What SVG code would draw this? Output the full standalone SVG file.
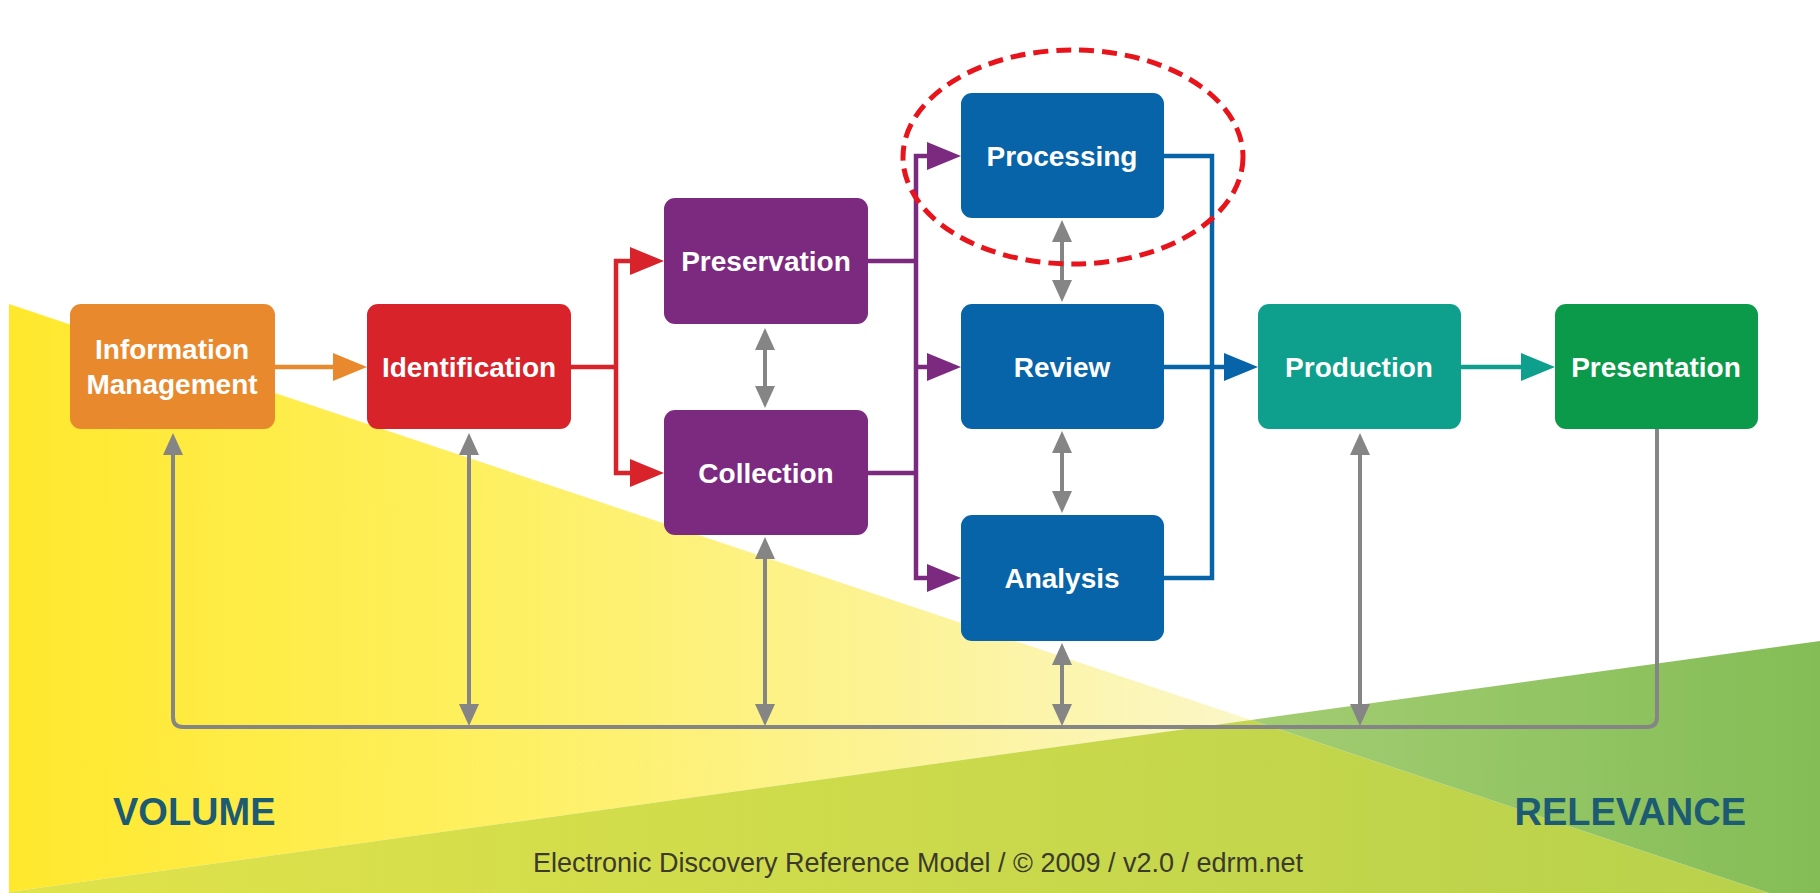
<svg xmlns="http://www.w3.org/2000/svg" width="1820" height="893" viewBox="0 0 1820 893">
<style>
.lbl{font-family:"Liberation Sans",Arial,sans-serif;font-weight:bold;font-size:28px;fill:#ffffff;text-anchor:middle}
.big{font-family:"Liberation Sans",Arial,sans-serif;font-weight:bold;font-size:38px;fill:#1c5b72}
.foot{font-family:"Liberation Sans",Arial,sans-serif;font-size:27px;fill:#3b3a2c;text-anchor:middle}
.ln{fill:none;stroke-width:4.5}
.gray{fill:none;stroke:#858585;stroke-width:4}
</style>
<defs>
<linearGradient id="gy" gradientUnits="userSpaceOnUse" x1="9" y1="0" x2="1250" y2="0">
<stop offset="0" stop-color="#ffe82c"/><stop offset="0.4" stop-color="#fef062"/><stop offset="0.75" stop-color="#fcf39c"/><stop offset="1" stop-color="#fbf7c8"/>
</linearGradient>
<linearGradient id="go" gradientUnits="userSpaceOnUse" x1="9" y1="0" x2="1769" y2="0">
<stop offset="0" stop-color="#e0e34a"/><stop offset="1" stop-color="#b8d14c"/>
</linearGradient>
<linearGradient id="gg" gradientUnits="userSpaceOnUse" x1="1251" y1="0" x2="1820" y2="0">
<stop offset="0" stop-color="#a3cd72"/><stop offset="1" stop-color="#84bd56"/>
</linearGradient>
<marker id="aO" markerUnits="userSpaceOnUse" markerWidth="34" markerHeight="28" refX="24" refY="14" orient="auto"><path d="M0,0 L34,14 L0,28 z" fill="#e8892e"/></marker>
<marker id="aR" markerUnits="userSpaceOnUse" markerWidth="34" markerHeight="28" refX="24" refY="14" orient="auto-start-reverse"><path d="M0,0 L34,14 L0,28 z" fill="#d8232b"/></marker>
<marker id="aP" markerUnits="userSpaceOnUse" markerWidth="34" markerHeight="28" refX="24" refY="14" orient="auto-start-reverse"><path d="M0,0 L34,14 L0,28 z" fill="#7c2a7f"/></marker>
<marker id="aB" markerUnits="userSpaceOnUse" markerWidth="34" markerHeight="28" refX="24" refY="14" orient="auto"><path d="M0,0 L34,14 L0,28 z" fill="#0864a9"/></marker>
<marker id="aT" markerUnits="userSpaceOnUse" markerWidth="34" markerHeight="28" refX="24" refY="14" orient="auto"><path d="M0,0 L34,14 L0,28 z" fill="#0f9f8d"/></marker>
<marker id="aG" markerUnits="userSpaceOnUse" markerWidth="22" markerHeight="20" refX="14" refY="10" orient="auto-start-reverse"><path d="M0,0 L22,10 L0,20 z" fill="#858585"/></marker>
</defs>
<rect width="1820" height="893" fill="#ffffff"/>
<g id="background">
<polygon points="9,304 1251,720 9,892" fill="url(#gy)"/>
<polygon points="9,892 1251,720 1769,893 9,893" fill="url(#go)"/>
<polygon points="1251,720 1820,641 1820,893 1769,893" fill="url(#gg)"/>
</g>
<g id="connectors">
<path class="ln" stroke="#e8892e" d="M275,367 H357" marker-end="url(#aO)"/>
<path class="ln" stroke="#d8232b" d="M571,367 H616"/>
<path class="ln" stroke="#d8232b" d="M654,261 H616 V473 H654" marker-start="url(#aR)" marker-end="url(#aR)"/>
<path class="ln" stroke="#7c2a7f" d="M868,261 H916 M868,473 H916"/>
<path class="ln" stroke="#7c2a7f" d="M951,156 H916 V578 H951" marker-start="url(#aP)" marker-end="url(#aP)"/>
<path class="ln" stroke="#7c2a7f" d="M916,367 H951" marker-end="url(#aP)"/>
<path class="ln" stroke="#0864a9" d="M1164,156 H1212 V578 H1164"/>
<path class="ln" stroke="#0864a9" d="M1164,367 H1248" marker-end="url(#aB)"/>
<path class="ln" stroke="#0f9f8d" d="M1461,367 H1545" marker-end="url(#aT)"/>
<path class="gray" d="M173,441 V717 Q173,727 183,727 H1647 Q1657,727 1657,717 V429" marker-start="url(#aG)"/>
<path class="gray" d="M469,441 V718" marker-start="url(#aG)" marker-end="url(#aG)"/>
<path class="gray" d="M765,545 V718" marker-start="url(#aG)" marker-end="url(#aG)"/>
<path class="gray" d="M1062,651 V718" marker-start="url(#aG)" marker-end="url(#aG)"/>
<path class="gray" d="M1360,441 V718" marker-start="url(#aG)" marker-end="url(#aG)"/>
<path class="gray" d="M765,336 V400" marker-start="url(#aG)" marker-end="url(#aG)"/>
<path class="gray" d="M1062,228 V294" marker-start="url(#aG)" marker-end="url(#aG)"/>
<path class="gray" d="M1062,439 V505" marker-start="url(#aG)" marker-end="url(#aG)"/>
</g>
<g id="information-management"><rect x="70" y="304" width="205" height="125" rx="11" fill="#e8892e"/><text class="lbl" x="172" y="359">Information</text><text class="lbl" x="172" y="394">Management</text></g>
<g id="identification"><rect x="367" y="304" width="204" height="125" rx="11" fill="#d8232b"/><text class="lbl" x="469" y="377">Identification</text></g>
<g id="preservation"><rect x="664" y="198" width="204" height="126" rx="11" fill="#7c2a7f"/><text class="lbl" x="766" y="271">Preservation</text></g>
<g id="collection"><rect x="664" y="410" width="204" height="125" rx="11" fill="#7c2a7f"/><text class="lbl" x="766" y="483">Collection</text></g>
<g id="processing"><rect x="961" y="93" width="203" height="125" rx="11" fill="#0864a9"/><text class="lbl" x="1062" y="166">Processing</text></g>
<g id="review"><rect x="961" y="304" width="203" height="125" rx="11" fill="#0864a9"/><text class="lbl" x="1062" y="377">Review</text></g>
<g id="analysis"><rect x="961" y="515" width="203" height="126" rx="11" fill="#0864a9"/><text class="lbl" x="1062" y="588">Analysis</text></g>
<g id="production"><rect x="1258" y="304" width="203" height="125" rx="11" fill="#0f9f8d"/><text class="lbl" x="1359" y="377">Production</text></g>
<g id="presentation"><rect x="1555" y="304" width="203" height="125" rx="11" fill="#0a9a4a"/><text class="lbl" x="1656" y="377">Presentation</text></g>
<g id="highlight"><ellipse cx="1073" cy="157" rx="170" ry="107" fill="none" stroke="#e8141c" stroke-width="5" stroke-dasharray="15 8"/></g>
<g id="labels">
<text class="big" x="113" y="825">VOLUME</text>
<text class="big" x="1746" y="825" text-anchor="end">RELEVANCE</text>
<text class="foot" x="918" y="872">Electronic Discovery Reference Model / © 2009 / v2.0 / edrm.net</text>
</g>
</svg>
